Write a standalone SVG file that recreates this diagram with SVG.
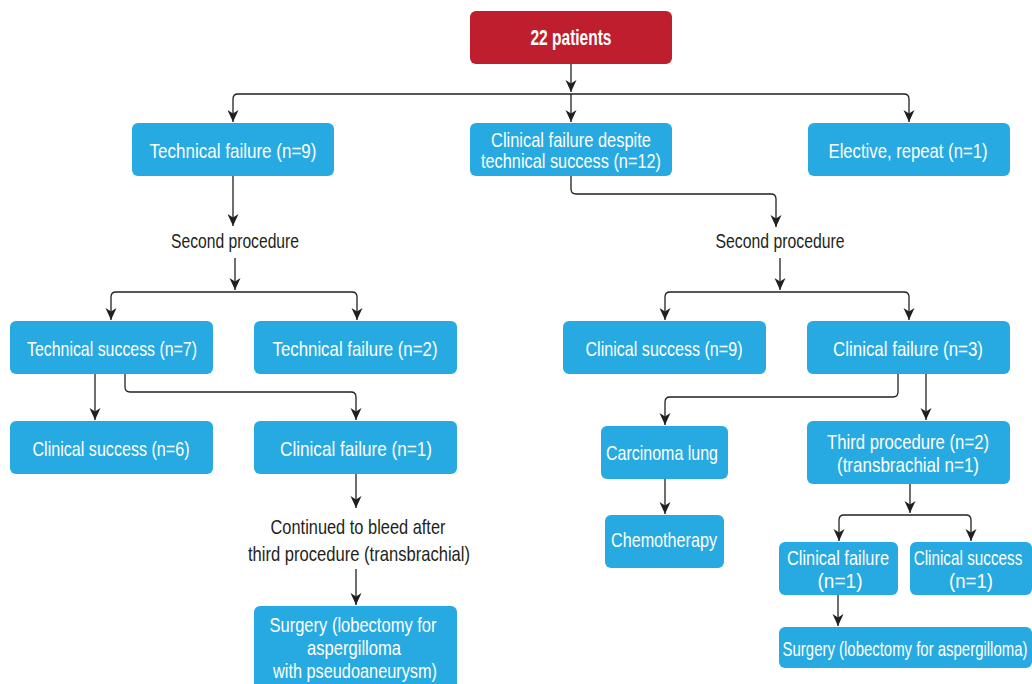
<svg xmlns="http://www.w3.org/2000/svg" width="1032" height="684" viewBox="0 0 1032 684">
<style>
.box{fill:#27AAE1;}
.red{fill:#BE1E2D;}
.t{font-family:"Liberation Sans",Arial,sans-serif;font-size:21px;fill:#FFFFFF;text-anchor:middle;}
.d{font-family:"Liberation Sans",Arial,sans-serif;font-size:21px;fill:#231F20;text-anchor:middle;}
.b{font-weight:bold;font-size:22px;}
.a{fill:none;stroke:#231F20;stroke-width:1.3;marker-end:url(#arr);}
</style>
<defs>
<marker id="arr" viewBox="0 0 12 12" markerWidth="12" markerHeight="12" refX="12" refY="6" orient="auto" markerUnits="userSpaceOnUse">
<path d="M0,0.5 L12,6 L0,11.5 L3.5,6 Z" fill="#231F20"/>
</marker>
</defs>
<rect width="1032" height="684" fill="#FFFFFF"/>
<g id="connectors">
<path class="a" d="M571,64 V92"/>
<path class="a" d="M571,94 H238 Q233,94 233,99 V122"/>
<path class="a" d="M571,94 V122"/>
<path class="a" d="M571,94 H904 Q909,94 909,99 V122"/>
<path class="a" d="M233,176 V226"/>
<path class="a" d="M235,258 V290"/>
<path class="a" d="M235,292 H116 Q111,292 111,297 V320"/>
<path class="a" d="M235,292 H352 Q357,292 357,297 V320"/>
<path class="a" d="M95,374 V420"/>
<path class="a" d="M125,374 V387 Q125,392 130,392 H351 Q356,392 356,397 V420"/>
<path class="a" d="M356,474 V508"/>
<path class="a" d="M356,569 V605"/>
<path class="a" d="M571,176 V189 Q571,194 576,194 H771 Q776,194 776,199 V227"/>
<path class="a" d="M780,258 V290"/>
<path class="a" d="M780,292 H670 Q665,292 665,297 V320"/>
<path class="a" d="M780,292 H904 Q909,292 909,297 V320"/>
<path class="a" d="M898,374 V392 Q898,397 893,397 H670 Q665,397 665,402 V425"/>
<path class="a" d="M926,374 V420"/>
<path class="a" d="M665,479 V514"/>
<path class="a" d="M910,484 V513"/>
<path class="a" d="M910,515 H844 Q839,515 839,520 V541"/>
<path class="a" d="M910,515 H966 Q971,515 971,520 V541"/>
<path class="a" d="M838,595 V626"/>
</g>
<g id="n_patients">
<rect class="red" x="470" y="11" width="202" height="53" rx="6"/>
<text class="t b" x="571" y="45" textLength="81" lengthAdjust="spacingAndGlyphs">22 patients</text>
</g>
<g id="n_techfail9">
<rect class="box" x="132" y="123" width="202" height="53" rx="6"/>
<text class="t" x="233" y="158" textLength="167" lengthAdjust="spacingAndGlyphs">Technical failure (n=9)</text>
</g>
<g id="n_clinfail12">
<rect class="box" x="470" y="123" width="202" height="53" rx="6"/>
<text class="t" x="571" y="147" textLength="160" lengthAdjust="spacingAndGlyphs">Clinical failure despite</text>
<text class="t" x="571" y="168" textLength="180" lengthAdjust="spacingAndGlyphs">technical success (n=12)</text>
</g>
<g id="n_elective">
<rect class="box" x="808" y="123" width="202" height="53" rx="6"/>
<text class="t" x="908" y="158" textLength="159" lengthAdjust="spacingAndGlyphs">Elective, repeat (n=1)</text>
</g>
<g id="n_second_left">
<text class="d" x="235" y="248" textLength="128" lengthAdjust="spacingAndGlyphs">Second procedure</text>
</g>
<g id="n_second_right">
<text class="d" x="780" y="248" textLength="129" lengthAdjust="spacingAndGlyphs">Second procedure</text>
</g>
<g id="n_techsucc7">
<rect class="box" x="10" y="321" width="203" height="53" rx="6"/>
<text class="t" x="112" y="356" textLength="170" lengthAdjust="spacingAndGlyphs">Technical success (n=7)</text>
</g>
<g id="n_techfail2">
<rect class="box" x="254" y="321" width="203" height="53" rx="6"/>
<text class="t" x="355" y="356" textLength="165" lengthAdjust="spacingAndGlyphs">Technical failure (n=2)</text>
</g>
<g id="n_clinsucc6">
<rect class="box" x="10" y="421" width="203" height="53" rx="6"/>
<text class="t" x="111" y="456" textLength="157" lengthAdjust="spacingAndGlyphs">Clinical success (n=6)</text>
</g>
<g id="n_clinfail1_left">
<rect class="box" x="254" y="421" width="203" height="53" rx="6"/>
<text class="t" x="356" y="456" textLength="152" lengthAdjust="spacingAndGlyphs">Clinical failure (n=1)</text>
</g>
<g id="n_continued">
<text class="d" x="358" y="534" textLength="175" lengthAdjust="spacingAndGlyphs">Continued to bleed after</text>
<text class="d" x="359" y="561" textLength="222" lengthAdjust="spacingAndGlyphs">third procedure (transbrachial)</text>
</g>
<g id="n_surgery_left">
<rect class="box" x="254" y="606" width="203" height="84" rx="6"/>
<text class="t" x="353" y="632" textLength="167" lengthAdjust="spacingAndGlyphs">Surgery (lobectomy for</text>
<text class="t" x="354" y="655" textLength="94" lengthAdjust="spacingAndGlyphs">aspergilloma</text>
<text class="t" x="355" y="678" textLength="164" lengthAdjust="spacingAndGlyphs">with pseudoaneurysm)</text>
</g>
<g id="n_clinsucc9">
<rect class="box" x="563" y="321" width="203" height="53" rx="6"/>
<text class="t" x="664" y="356" textLength="157" lengthAdjust="spacingAndGlyphs">Clinical success (n=9)</text>
</g>
<g id="n_clinfail3">
<rect class="box" x="807" y="321" width="203" height="53" rx="6"/>
<text class="t" x="908" y="356" textLength="150" lengthAdjust="spacingAndGlyphs">Clinical failure (n=3)</text>
</g>
<g id="n_carcinoma">
<rect class="box" x="601" y="426" width="127" height="53" rx="6"/>
<text class="t" x="662" y="460" textLength="112" lengthAdjust="spacingAndGlyphs">Carcinoma lung</text>
</g>
<g id="n_chemo">
<rect class="box" x="605" y="515" width="119" height="53" rx="6"/>
<text class="t" x="664" y="547" textLength="106" lengthAdjust="spacingAndGlyphs">Chemotherapy</text>
</g>
<g id="n_third">
<rect class="box" x="807" y="421" width="203" height="63" rx="6"/>
<text class="t" x="908" y="449" textLength="162" lengthAdjust="spacingAndGlyphs">Third procedure (n=2)</text>
<text class="t" x="908" y="472" textLength="142" lengthAdjust="spacingAndGlyphs">(transbrachial n=1)</text>
</g>
<g id="n_clinfail1_right">
<rect class="box" x="779" y="542" width="119" height="53" rx="6"/>
<text class="t" x="838" y="565" textLength="102" lengthAdjust="spacingAndGlyphs">Clinical failure</text>
<text class="t" x="840" y="588" textLength="45" lengthAdjust="spacingAndGlyphs">(n=1)</text>
</g>
<g id="n_clinsucc1_right">
<rect class="box" x="910" y="542" width="122" height="53" rx="6"/>
<text class="t" transform="translate(968,565) scale(0.75,1)" x="0" y="0" textLength="145" lengthAdjust="spacingAndGlyphs">Clinical success</text>
<text class="t" x="971" y="588" textLength="44" lengthAdjust="spacingAndGlyphs">(n=1)</text>
</g>
<g id="n_surgery_right">
<rect class="box" x="779" y="627" width="253" height="41" rx="6"/>
<text class="t" transform="translate(905,656) scale(0.72,1)" x="0" y="0" textLength="340" lengthAdjust="spacingAndGlyphs">Surgery (lobectomy for aspergilloma)</text>
</g>
</svg>
